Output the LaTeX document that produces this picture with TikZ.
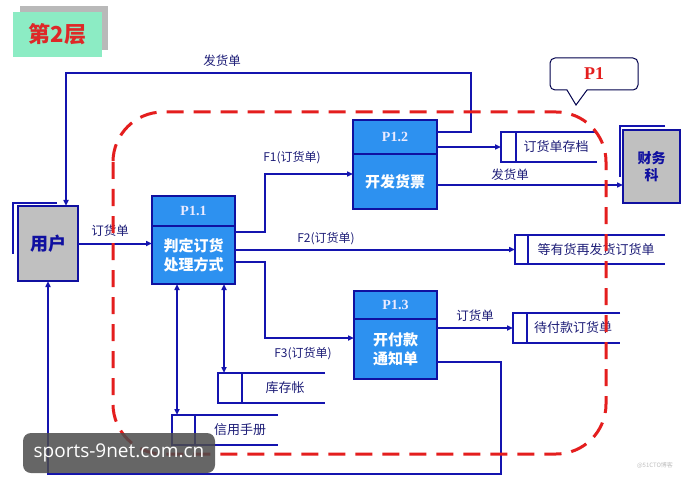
\documentclass[tikz,border=0pt]{standalone}
\usepackage{fontspec}
\setmainfont{Noto Sans CJK SC}
\newfontfamily\timesf{Liberation Serif}
\newfontfamily\wmfont{Open Sans}
\usetikzlibrary{arrows.meta,calc}
\definecolor{lineblue}{RGB}{20,20,175}
\definecolor{boxblue}{RGB}{16,16,160}
\definecolor{procfill}{RGB}{45,145,240}
\definecolor{labelblue}{RGB}{30,30,120}
\definecolor{grayfill}{RGB}{192,192,192}
\definecolor{dashred}{RGB}{228,30,30}
\definecolor{titlegreen}{RGB}{140,236,196}
\definecolor{titlered}{RGB}{222,40,40}
\newcommand\dstore[7]{%
  \node[storebox,minimum width=#3,minimum height=#4] (#1) at (#2) {};
  \draw[sline] (#1.north east) -- (#1.north west) -- (#1.south west) -- (#1.south east);
  \draw[sline] ($(#1.north west)+(#5,0)$) -- ($(#1.south west)+(#5,0)$);
  \node[stxt] (#1t) at (#6) {#7};}
\begin{document}
\begin{tikzpicture}[x=1pt,y=-1pt,
  flow/.style={draw=lineblue,line width=2pt,-{Triangle[length=6pt,width=5pt]}},
  plain/.style={draw=lineblue,line width=2pt},
  both/.style={draw=lineblue,line width=2pt,{Triangle[length=6pt,width=5pt]}-{Triangle[length=6pt,width=5pt]}},
  phead/.style={draw=boxblue,line width=2.5pt,fill=procfill,outer sep=0pt,inner sep=0pt,
    text=white!92!blue,font=\timesf\bfseries\fontsize{14}{16}\selectfont},
  pbody/.style={draw=boxblue,line width=2.5pt,fill=procfill,outer sep=0pt,inner sep=0pt,align=center,
    text=white,font=\bfseries\fontsize{15}{19}\selectfont},
  ext/.style={draw=boxblue,line width=2.5pt,fill=grayfill,outer sep=0pt,inner sep=0pt,align=center,
    text=boxblue,font=\bfseries},
  storebox/.style={draw=none,outer sep=0pt,inner sep=0pt},
  sline/.style={draw=lineblue,line width=2pt},
  stxt/.style={text=labelblue,inner sep=0pt,font=\fontsize{13}{15}\selectfont},
  lbl/.style={text=labelblue,inner sep=0pt,font=\fontsize{12.5}{14}\selectfont},
  shadowline/.style={draw=lineblue,line width=2pt}
]
\useasboundingbox[fill=white] (0,0) rectangle (692,494);

% title
\fill[gray!55] (20,6) rectangle (108,50);
\node[fill=titlegreen,minimum width=89,minimum height=45,inner sep=0pt,outer sep=0pt,
  text=titlered,font=\bfseries\fontsize{22}{24}\selectfont] (title) at (57.5,34.5) {第2层};

% external entities
\node[ext,minimum width=60,minimum height=75,font=\bfseries\fontsize{18}{20}\selectfont] (user) at (48,243.5) {用户};
\draw[shadowline] ($(user.north west)+(39,-3)$) -- ($(user.north west)+(-5,-3)$) -- ($(user.north west)+(-5,48)$);
\node[ext,minimum width=57,minimum height=73,font=\bfseries\fontsize{14}{17}\selectfont] (fin) at (651.5,166.5) {财务\\科};
\draw[shadowline] ($(fin.north west)+(42,-4)$) -- ($(fin.north west)+(-3,-4)$) -- ($(fin.north west)+(-3,47)$);

% processes
\node[pbody,minimum width=83,minimum height=58] (p11b) at (193.5,255) {判定订货\\处理方式};
\node[phead,minimum width=83,minimum height=30] (p11h) at (193.5,211) {P1.1};
\node[pbody,minimum width=84,minimum height=55] (p12b) at (395,181.5) {开发货票};
\node[phead,minimum width=84,minimum height=34] (p12h) at (395,137) {P1.2};
\node[pbody,minimum width=83,minimum height=60] (p13b) at (395.5,349) {开付款\\通知单};
\node[phead,minimum width=83,minimum height=28] (p13h) at (395.5,305) {P1.3};

% data stores
\dstore{s1}{549,147}{96}{30}{15}{556,147}{订货单存档}
\dstore{s2}{590,249.5}{150}{29}{13}{596,250}{等有货再发货订货单}
\dstore{s3}{566.5,328}{107}{30}{14}{573,328}{待付款订货单}
\dstore{s4}{271.5,388}{107}{30}{24}{285,388}{库存帐}
\dstore{s5}{225,430}{106}{30}{23}{240,430}{信用手册}

% flows
\draw[flow] (user.east) -- (p11b.west |- user.east);
\node[lbl] (l1) at (110,231) {订货单};

\draw[flow] (p11b.east |- 0,232) -- (265,232) -- (265,174) -- (p12b.west |- 0,174);
\node[lbl,font=\fontsize{12}{14}\selectfont] (l2) at (292,158) {F1(订货单)};

\draw[flow] (p11b.east |- s2.west) -- (s2.west);
\node[lbl,font=\fontsize{12}{14}\selectfont] (l3) at (326,239) {F2(订货单)};

\draw[flow] (p11b.east |- 0,262) -- (265,262) -- (265,338) -- (p13b.west |- 0,338);
\node[lbl,font=\fontsize{12}{14}\selectfont] (l4) at (303,354) {F3(订货单)};

\draw[flow] (p12h.east |- s1.west) -- (s1.west);
\draw[flow] (p12b.east |- 0,185) -- (fin.west |- 0,185);
\node[lbl] (l5) at (510,175) {发货单};

\draw[flow] (p12h.east |- 0,132) -- (471,132) -- (471,73) -- (66,73) -- (user.north -| 66,0);
\node[lbl] (l6) at (222,61) {发货单};

\draw[flow] (p13b.east |- s3.west) -- (s3.west);
\node[lbl] (l7) at (475,316) {订货单};

\draw[flow] (p13b.east |- 0,362) -- (501,362) -- (501,474) -- (48,474) -- (user.south);

\draw[both] (p11b.south -| 177,0) -- (s5.north -| 177,0);
\draw[both] (p11b.south -| 224,0) -- (s4.north -| 224,0);

% P1 boundary
\draw[dashred,line width=3pt,dash pattern=on 17pt off 10pt,rounded corners=50pt] (113,112) rectangle (606,454);

% callout
\draw[draw=black!70!blue,line width=1pt,fill=white]
  (550,74) [rounded corners=5pt]-- (550,58) -- (638,58) -- (638,90) [sharp corners]-- (587,90) -- (576,105) -- (567,90) [rounded corners=5pt]-- (550,90) -- cycle;
\node[text=dashred,font=\timesf\bfseries\fontsize{18}{20}\selectfont,inner sep=0pt] (p1) at (594,74) {P1};

% watermark
\node[fill=black!70,fill opacity=0.85,text opacity=1,rounded corners=8pt,minimum width=192,minimum height=40,
  inner sep=0pt,text=white,font=\wmfont\fontsize{19}{22}\selectfont] (wm) at (119,453) {sports-9net.com.cn};
\node[text=black!25,font=\fontsize{6}{7}\selectfont,inner sep=0pt] (wm2) at (655,465) {@51CTO博客};
\end{tikzpicture}
\end{document}
